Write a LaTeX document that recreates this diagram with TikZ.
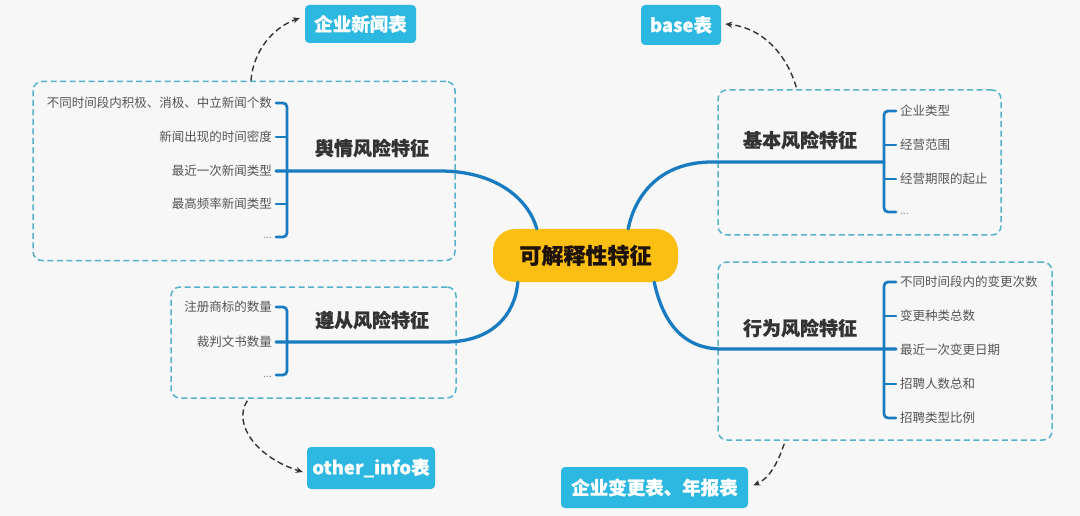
\documentclass[tikz,border=0pt]{standalone}
\usepackage{fontspec}
\setmainfont{Noto Sans CJK SC}
\newfontfamily\heavyfont{Noto Sans CJK SC}[BoldFeatures={FakeBold=0.5}]
\usetikzlibrary{arrows.meta,calc}
\definecolor{bg}{HTML}{F7F7F7}
\definecolor{branch}{HTML}{1A7CC0}
\definecolor{grpline}{HTML}{55B2CC}
\definecolor{tablefill}{HTML}{2CB8E0}
\definecolor{centerfill}{HTML}{FBBE12}
\definecolor{itemtext}{HTML}{555555}
\definecolor{labeltext}{HTML}{333333}
\definecolor{arrowcol}{HTML}{333333}
\tikzset{
  grpbox/.style={draw=grpline, dashed, dash pattern=on 6pt off 3.5pt, line width=1.5pt, rounded corners=9pt, inner sep=0pt},
  itembox/.style={inner sep=0pt, font=\fontsize{12.5}{14}\selectfont, text=itemtext},
  dotsbox/.style={inner sep=0pt, font=\fontsize{10}{12}\selectfont, text=itemtext!70},
  catlabel/.style={inner sep=0pt, font=\heavyfont\fontsize{19}{22}\bfseries\selectfont, text=labeltext},
  tablenode/.style={fill=tablefill, rounded corners=4pt, text=white, inner sep=0pt, font=\heavyfont\fontsize{18.5}{22}\bfseries\selectfont},
  centernode/.style={fill=centerfill, rounded corners=22pt, inner sep=0pt, minimum width=185pt, minimum height=53pt, text=black!85!brown, font=\heavyfont\fontsize{22}{26}\bfseries\selectfont},
  branchline/.style={draw=branch, line width=3.3pt, line cap=round},
  bracketline/.style={draw=branch, line width=2.7pt, rounded corners=4pt, line cap=round},
  refarrow/.style={draw=arrowcol, line width=1.4pt, dashed, dash pattern=on 6pt off 3.5pt, -{Stealth[length=7pt,width=6pt]}},
}
\begin{document}
\begin{tikzpicture}[x=1pt,y=-1pt]
\fill[bg] (0,0) rectangle (1080,516);
\useasboundingbox (0,0) rectangle (1080,516);

% group boxes
\node[grpbox, minimum width=422pt, minimum height=179pt] (gtl) at (244,171) {};
\node[grpbox, minimum width=285pt, minimum height=111pt] (gbl) at (313.5,342.5) {};
\node[grpbox, minimum width=283pt, minimum height=145pt] (gtr) at (859.5,162.5) {};
\node[grpbox, minimum width=334pt, minimum height=178pt] (gbr) at (885,351) {};

% center
\node[centernode] (c) at (585.5,255.5) {可解释性特征};

% table nodes
\node[tablenode, minimum width=111pt, minimum height=38pt] (t1) at (360.5,24) {企业新闻表};
\node[tablenode, minimum width=80pt, minimum height=40pt] (t2) at (681,25) {base表};
\node[tablenode, minimum width=128pt, minimum height=42pt] (t3) at (371,468) {other\_info表};
\node[tablenode, minimum width=187pt, minimum height=41pt] (t4) at (654.5,487.5) {企业变更表、年报表};

% ---------- top-left: 舆情风险特征
\node[itembox, anchor=east] (a1) at (272,103) {不同时间段内积极、消极、中立新闻个数};
\node[itembox, anchor=east] (a2) at (272,137) {新闻出现的时间密度};
\node[itembox, anchor=east] (a3) at (272,171) {最近一次新闻类型};
\node[itembox, anchor=east] (a4) at (272,204) {最高频率新闻类型};
\node[dotsbox, anchor=east] (a5) at (272,238) {...};
\node[catlabel] (la) at (372,148) {舆情风险特征};
\coordinate (ja) at (287,171);
\draw[bracketline] ($(a1.east)+(4,0)$) -- (287,103) -- (287,237) -- ($(a5.east)+(4,-1)$);
\draw[bracketline] ($(a2.east)+(4,0)$) -- (287,137);
\draw[bracketline] ($(a4.east)+(4,0)$) -- (287,204);
\draw[branchline] ($(a3.east)+(4,0)$) -- (ja) -- (440,171) .. controls (495,171) and (528,198) .. ($(c.north west)+(44,0)$);

% ---------- bottom-left: 遵从风险特征
\node[itembox, anchor=east] (b1) at (272,307) {注册商标的数量};
\node[itembox, anchor=east] (b2) at (272,342) {裁判文书数量};
\node[dotsbox, anchor=east] (b3) at (272,377) {...};
\node[catlabel] (lb) at (372,320) {遵从风险特征};
\coordinate (jb) at (287,342);
\draw[bracketline] ($(b1.east)+(4,0)$) -- (287,307) -- (287,375) -- ($(b3.east)+(4,-2)$);
\draw[branchline] ($(b2.east)+(4,0)$) -- (jb) -- (445,342) .. controls (492,342) and (515,315) .. ($(c.south west)+(25,0)$);

% ---------- top-right: 基本风险特征
\node[itembox, anchor=west] (r1) at (900,111) {企业类型};
\node[itembox, anchor=west] (r2) at (900,145) {经营范围};
\node[itembox, anchor=west] (r3) at (900,179) {经营期限的起止};
\node[dotsbox, anchor=west] (r4) at (900,214) {...};
\node[catlabel] (lr) at (800,140) {基本风险特征};
\coordinate (jr) at (884,162);
\draw[bracketline] ($(r1.west)+(-4,0)$) -- (884,111) -- (884,212) -- ($(r4.west)+(-4,-2)$);
\draw[bracketline] ($(r2.west)+(-4,0)$) -- (884,145);
\draw[bracketline] ($(r3.west)+(-4,0)$) -- (884,179);
\draw[branchline] (jr) -- (712,162) .. controls (660,162) and (635,195) .. ($(c.north east)+(-50,0)$);

% ---------- bottom-right: 行为风险特征
\node[itembox, anchor=west] (s1) at (900,282) {不同时间段内的变更次数};
\node[itembox, anchor=west] (s2) at (900,316) {变更种类总数};
\node[itembox, anchor=west] (s3) at (900,350) {最近一次变更日期};
\node[itembox, anchor=west] (s4) at (900,384) {招聘人数总和};
\node[itembox, anchor=west] (s5) at (900,418) {招聘类型比例};
\node[catlabel] (ls) at (800,328) {行为风险特征};
\coordinate (js) at (884,349);
\draw[bracketline] ($(s1.west)+(-4,0)$) -- (884,282) -- (884,418) -- ($(s5.west)+(-4,0)$);
\draw[bracketline] ($(s2.west)+(-4,0)$) -- (884,316);
\draw[bracketline] ($(s4.west)+(-4,0)$) -- (884,384);
\draw[branchline] ($(s3.west)+(-4,-1)$) -- (js) -- (722,349) .. controls (680,349) and (662,318) .. ($(c.south east)+(-24,0)$);

% ---------- dashed reference arrows
\draw[refarrow] ($(gtl.north)+(7,0)$) .. controls (253,52) and (272,28) .. ($(t1.west)+(-5,-6)$);
\draw[refarrow] ($(gtr.north west)+(79,-2)$) .. controls (788,58) and (765,28) .. ($(t2.east)+(4,-1)$);
\draw[refarrow] ($(gbl.south west)+(77,2)$) .. controls (232,425) and (258,458) .. ($(t3.west)+(-4,4)$);
\draw[refarrow] ($(gbr.south west)+(67,3)$) .. controls (778,462) and (770,478) .. ($(t4.east)+(5,-2)$);
\end{tikzpicture}
\end{document}
